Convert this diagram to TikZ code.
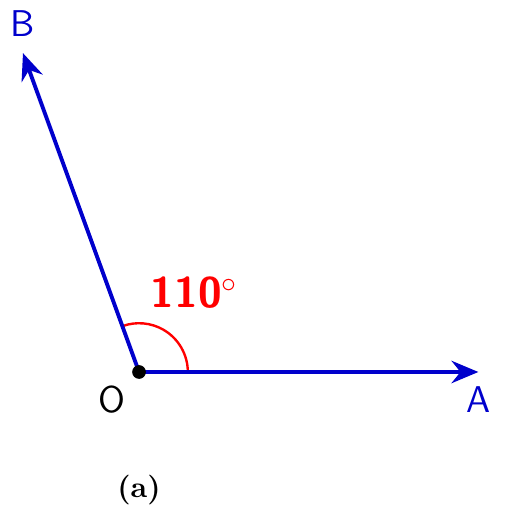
\documentclass[tikz,border=0pt]{standalone}
\usepackage{amsmath}
\usepackage{xcolor}
\usepackage{tikz}
\usetikzlibrary{arrows.meta}
\usetikzlibrary{calc}
\tikzset{ vec_line/.style = {blue!80!black, line width=1.3pt, -{Stealth[length=9pt,width=7.5pt,inset=3pt]}} }
\tikzset{ pt_label/.style = {font=\sffamily\fontsize{12.5}{15}\selectfont} }

\begin{document}
\begin{tikzpicture}
            \useasboundingbox (-1.639,-1.839) rectangle (4.361,4.385);
            \coordinate (O) at (0, 0);
            \coordinate (A) at (4, 0);
            \coordinate (B) at (110:4);
            \draw[red, line width=0.8pt] (0.575, 0) arc (0:110:0.575);
            \draw[vec_line] (O) to (A);
            \draw[vec_line] (O) to (B);
            \fill (O) circle (2.3pt);
            \node[pt_label, blue!80!black, above=2pt] (lb) at (B) {B};
            \node[pt_label, blue!80!black, below=1.5pt] (la) at (A) {A};
            \node[pt_label, below left=1pt] (lo) at (O) {O};
            \node[red, font=\sffamily\bfseries\Large] (ang) at (55:1.14) {110$^\circ$};
            \node[font=\bfseries] (cap) at (0, -1.39) {(a)};
        \end{tikzpicture}
\end{document}
